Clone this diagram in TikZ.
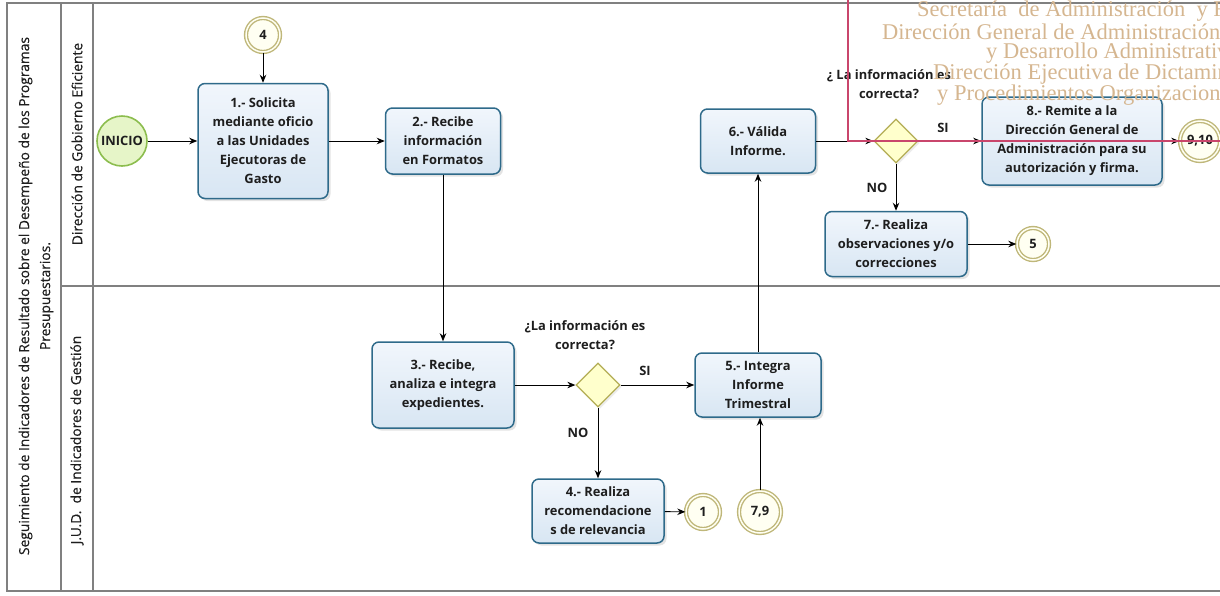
\documentclass[tikz,border=0pt]{standalone}
\usepackage{fontspec}
\setmainfont{Open Sans}
\newfontfamily\lanefont[FakeBold=0.5]{Open Sans}
\newfontfamily\wmfont{Liberation Serif}
\usetikzlibrary{arrows.meta,shapes.geometric,shadows}

\definecolor{lanegray}{HTML}{808080}
\definecolor{tasktop}{HTML}{F1F6FC}
\definecolor{taskbot}{HTML}{D8E6F3}
\definecolor{taskdraw}{HTML}{2E6A8A}
\definecolor{gwfill}{HTML}{FFFFCC}
\definecolor{gwdraw}{HTML}{B3AD55}
\definecolor{evfill}{HTML}{FFFFF2}
\definecolor{evdraw}{HTML}{BFB77A}
\definecolor{startfill}{HTML}{E6F5C8}
\definecolor{startdraw}{HTML}{8CBD4E}
\definecolor{wmtan}{HTML}{D5B690}
\definecolor{framered}{HTML}{C9466C}
\definecolor{ink}{HTML}{1E1E1E}

\tikzset{
  lane/.style={draw=lanegray, line width=1.2pt},
  task/.style={rectangle, rounded corners=7pt, draw=taskdraw, line width=1.5pt,
    top color=tasktop, bottom color=taskbot, align=center, inner sep=0pt,
    text=ink, font=\bfseries\fontsize{12.9}{19}\selectfont,
    drop shadow={opacity=0.22, shadow xshift=2.5pt, shadow yshift=-2.5pt}},
  gateway/.style={diamond, aspect=1, minimum width=44pt, minimum height=44pt,
    inner sep=0pt, draw=gwdraw, line width=1.3pt, fill=gwfill,
    drop shadow={opacity=0.15, shadow xshift=2pt, shadow yshift=-2pt}},
  linkev/.style={circle, inner sep=0pt, draw=evdraw, line width=1.4pt,
    double=evfill, double distance=1.5pt, fill=evfill, text=ink,
    font=\bfseries\fontsize{12.9}{14}\selectfont},
  startev/.style={circle, minimum size=50pt, inner sep=0pt, draw=startdraw,
    line width=1.6pt, fill=startfill, text=ink,
    font=\bfseries\fontsize{12.9}{14}\selectfont},
  flow/.style={draw=black, line width=0.9pt, -{Stealth[length=8pt,width=6.5pt]}},
  lbl/.style={align=center, text=ink, font=\bfseries\fontsize{12.9}{19}\selectfont},
  lanelbl/.style={rotate=90, align=center, text=ink, font=\lanefont\fontsize{13.8}{21}\selectfont},
  wm/.style={anchor=west, inner sep=0pt, text=wmtan, font=\wmfont\fontsize{22.5}{22}\selectfont}
}

\begin{document}
\begin{tikzpicture}[x=1pt,y=-1pt]
\useasboundingbox (0,0) rectangle (1220,595);

% pool and lanes
\draw[lane] (1220,3) -- (7,3) -- (7,591) -- (1220,591);
\draw[lane] (61,3) -- (61,591);
\draw[lane] (93,3) -- (93,591);
\draw[lane] (61,286) -- (1220,286);

\node[lanelbl] (pool) at (36,296) {Seguimiento de Indicadores de Resultado sobre el Desempeño de los Programas\\Presupuestarios.};
\node[lanelbl] (laneA) at (77,144) {Dirección de Gobierno Eficiente};
\node[lanelbl] (laneB) at (77,440) {J.U.D.\ \ de Indicadores de Gestión};

% events
\node[startev] (inicio) at (122,141) {INICIO};
\node[linkev, minimum size=34pt] (c4) at (263,35) {4};
\node[linkev, minimum size=34pt] (c1) at (703,512) {1};
\node[linkev, minimum size=42pt] (c79) at (760,512) {7,9};
\node[linkev, minimum size=32pt] (c5) at (1033,244) {5};
\node[linkev, minimum size=40pt] (c910) at (1200,141) {9,10};

% tasks
\node[task, minimum width=130pt, minimum height=115pt] (t1) at (263,141)
  {1.- Solicita\\mediante oficio\\a las Unidades\\Ejecutoras de\\Gasto};
\node[task, minimum width=115pt, minimum height=66pt] (t2) at (443,141)
  {2.- Recibe\\información\\en Formatos};
\node[task, minimum width=142pt, minimum height=86pt] (t3) at (443,385)
  {3.- Recibe,\\analiza e integra\\expedientes.};
\node[task, minimum width=132pt, minimum height=64pt] (t4) at (598,511)
  {4.- Realiza\\recomendacione\\s de relevancia};
\node[task, minimum width=126pt, minimum height=64pt] (t5) at (758,385)
  {5.- Integra\\Informe\\Trimestral};
\node[task, minimum width=115pt, minimum height=64pt] (t6) at (758,141)
  {6.- Válida\\Informe.};
\node[task, minimum width=142pt, minimum height=65pt] (t7) at (896,244)
  {7.- Realiza\\observaciones y/o\\correcciones};
\node[task, minimum width=180pt, minimum height=88pt] (t8) at (1072,141)
  {8.- Remite a la\\Dirección General de\\Administración para su\\autorización y firma.};

% gateways
\node[gateway] (g1) at (598,385) {};
\node[gateway] (g2) at (896,141) {};

% gateway labels
\node[lbl] (q1) at (585,335) {¿La información es\\correcta?};
\node[lbl] (si1) at (645,371) {SI};
\node[lbl] (no1) at (578,433) {NO};
\node[lbl] (q2) at (889,84) {¿ La información es\\correcta?};
\node[lbl] (si2) at (943,128) {SI};
\node[lbl] (no2) at (877,188) {NO};

% sequence flows
\draw[flow] (inicio) -- (t1);
\draw[flow] (c4) -- (t1);
\draw[flow] (t1) -- (t2);
\draw[flow] (t2) -- (t3);
\draw[flow] (t3) -- (g1);
\draw[flow] (g1) -- (t5);
\draw[flow] (g1) -- (t4);
\draw[flow] (t4) -- (c1);
\draw[flow] (c79) -- (c79 |- t5.south);
\draw[flow] (t5) -- (t6);
\draw[flow] (t6) -- (g2);
\draw[flow] (g2) -- (t8);
\draw[flow] (g2) -- (t7);
\draw[flow] (t7) -- (c5);
\draw[flow] (t8) -- (c910);

% stamp overlay, running past the right edge
\begin{scope}
  \clip (0,0) rectangle (1220,595);
  \node[wm] (w1) at (917,11) {Secretaría\ \ de Administración\ \ y Finanzas};
  \node[wm] (w2) at (882,32) {Dirección General de Administración de Personal};
  \node[wm] (w3) at (986,53) {y Desarrollo Administrativo};
  \node[wm] (w4) at (933,74) {Dirección Ejecutiva de Dictaminación};
  \node[wm] (w5) at (937,95) {y Procedimientos Organizacionales};
  \draw[framered, line width=1.3pt] (848,-10) -- (848,141) -- (1240,141);
\end{scope}
\end{tikzpicture}
\end{document}
